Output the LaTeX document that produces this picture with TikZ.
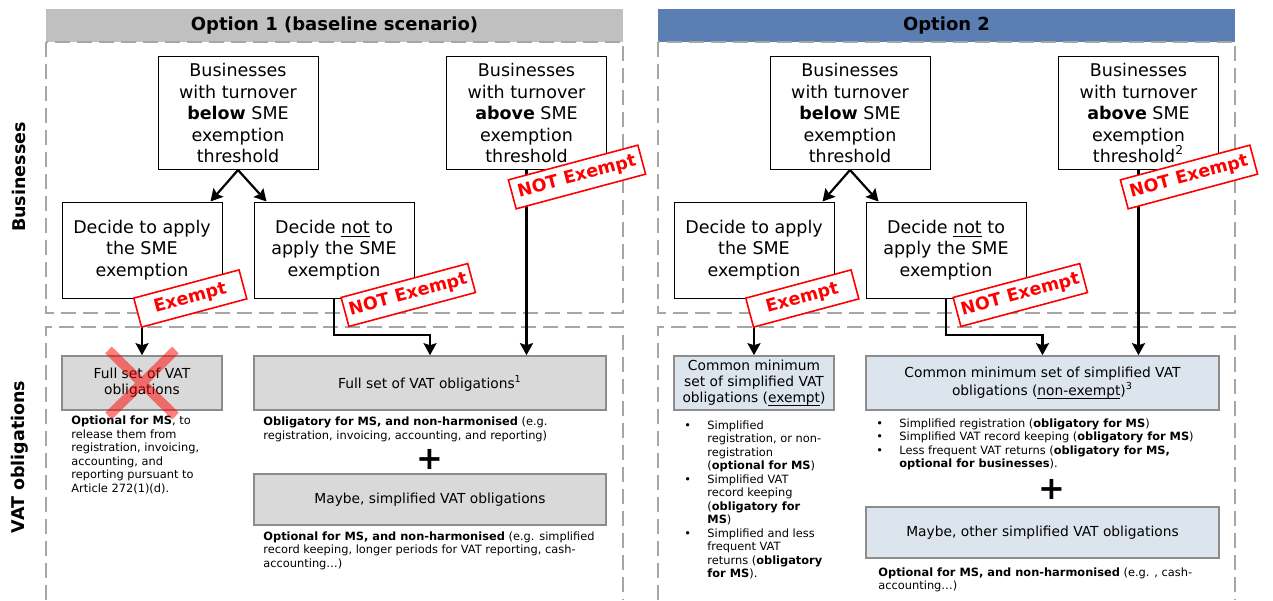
\documentclass[tikz,border=0pt]{standalone}
\usepackage{fontspec}
\setmainfont{DejaVu Sans}
\usepackage{tikz}
\usetikzlibrary{arrows.meta}
\usetikzlibrary{positioning}
\definecolor{hdrgray}{HTML}{C0C0C0}
\definecolor{hdrblue}{HTML}{5B7FB3}
\definecolor{dashgray}{HTML}{A6A6A6}
\definecolor{obgray}{HTML}{D9D9D9}
\definecolor{obblue}{HTML}{DCE4EE}
\definecolor{edgegray}{HTML}{8C8C8C}
\newcommand{\boxfont}{\fontsize{8.75}{10.75}\selectfont}
\newcommand{\obfont}{\fontsize{6.9}{8}\selectfont}
\newcommand{\notefont}{\fontsize{5.7}{6.75}\selectfont}
\newcommand{\bul}{\makebox[11.5pt][l]{\textbullet}}
\newcommand{\ind}{\hspace*{11.5pt}}
\newcommand{\uln}[1]{\underline{\smash{#1}}}

\begin{document}
\begin{tikzpicture}[x=0.5pt, y=-0.5pt,
    hdr/.style={font=\fontsize{9}{11}\selectfont\bfseries, inner sep=0pt, minimum width=288.5pt, minimum height=16.5pt},
    region/.style={dashgray, line width=1pt, dash pattern=on 7.5pt off 3.5pt},
    side/.style={rotate=90, font=\boxfont\bfseries},
    bizbox/.style={draw, line width=0.5pt, fill=white, minimum width=80pt, align=center, font=\boxfont, inner sep=0pt},
    obbox/.style={draw=edgegray, line width=0.8pt, fill=obgray, align=center, font=\obfont, inner sep=0pt, minimum height=27pt},
    note/.style={align=left, font=\notefont, inner sep=0pt, anchor=north west},
    plus/.style={font=\fontsize{16}{16}\selectfont\bfseries, inner sep=0pt},
    stamp/.style={draw=red, line width=0.8pt, fill=white, text=red, font=\boxfont\bfseries, rotate=15, minimum height=15pt, inner sep=1.5pt},
    flow/.style={line width=1.1pt, -{Stealth[length=6pt, width=6.5pt, inset=1pt]}},
    cross/.style={red, opacity=0.5, line width=4.75pt}]
  \useasboundingbox (0,0) rectangle (1273,600);

  \node[side] (lbiz) at (19,177) {Businesses};
  \node[side] (lvat) at (20,457) {VAT obligations};

  % Option 1
  \node[hdr, fill=hdrgray] (h1) at (334.5,25.5) {Option 1 (baseline scenario)};
  \draw[region] (46,42) rectangle (623,313);
  \draw[region] (46,600) -- (46,327) -- (623,327) -- (623,600);

  \node[bizbox, minimum height=56.5pt] (b1) at (238,113) {Businesses\\with turnover\\\textbf{below} SME\\exemption\\threshold};
  \node[bizbox, minimum height=56.5pt] (b2) at (526.5,113) {Businesses\\with turnover\\\textbf{above} SME\\exemption\\threshold};
  \node[bizbox, minimum height=48pt] (d1) at (142,250) {Decide to apply\\the SME\\exemption};
  \node[bizbox, minimum height=48pt] (d2) at (334,250) {Decide \uln{not} to\\apply the SME\\exemption};

  \node[obbox, minimum width=80pt] (f1) at (142,383) {Full set of VAT\\obligations};
  \node[obbox, minimum width=176pt] (f2) at (430,383) {Full set of VAT obligations\textsuperscript{1}};
  \node[plus] (plus1) at (430,459) {+};
  \node[obbox, minimum width=176pt, minimum height=25.5pt] (m1) at (430,499.5) {Maybe, simplified VAT obligations};

  \node[note] (n1) at (71,415.5) {\textbf{Optional for MS}, to\\release them from\\registration, invoicing,\\accounting, and\\reporting pursuant to\\Article 272(1)(d).};
  \node[note] (n2) at (263,416.5) {\textbf{Obligatory for MS, and non-harmonised} (e.g.\\registration, invoicing, accounting, and reporting)};
  \node[note] (n3) at (263,531) {\textbf{Optional for MS, and non-harmonised} (e.g. simplified\\record keeping, longer periods for VAT reporting, cash-\\accounting\ldots)};

  \coordinate (lvl) at (0,335);
  \draw[flow] (b1.south) -- ([xshift=-6pt]d1.north east);
  \draw[flow] (b1.south) -- ([xshift=6.5pt]d2.north west);
  \draw[flow] (d1.south) -- (f1.north);
  \draw[flow] (d2.south) |- (f2.north |- lvl) -- (f2.north);
  \draw[flow] (b2.south) -- (b2.south |- f2.north);

  \draw[cross] (f1.center) +(-33.5,-33) -- +(33.5,33) +(-33.5,33) -- +(33.5,-33);

  \node[stamp, minimum width=54.5pt] (s1) at (190.3,298.5) {Exempt};
  \node[stamp, minimum width=65.5pt] (s2) at (408.3,295) {NOT Exempt};
  \node[stamp, minimum width=67pt] (s3) at (577,177) {NOT Exempt};

  % Option 2
  \begin{scope}[xshift=306pt]
    \node[hdr, fill=hdrblue] (h2) at (334.5,25.5) {Option 2};
    \draw[region] (46,42) rectangle (623,313);
    \draw[region] (46,600) -- (46,327) -- (623,327) -- (623,600);

    \node[bizbox, minimum height=56.5pt] (b3) at (238,113) {Businesses\\with turnover\\\textbf{below} SME\\exemption\\threshold};
    \node[bizbox, minimum height=56.5pt] (b4) at (526.5,113) {Businesses\\with turnover\\\textbf{above} SME\\exemption\\threshold\textsuperscript{2}};
    \node[bizbox, minimum height=48pt] (d3) at (142,250) {Decide to apply\\the SME\\exemption};
    \node[bizbox, minimum height=48pt] (d4) at (334,250) {Decide \uln{not} to\\apply the SME\\exemption};

    \node[obbox, fill=obblue, minimum width=80pt] (c1) at (142,383) {Common minimum\\set of simplified VAT\\obligations (\uln{exempt})};
    \node[obbox, fill=obblue, minimum width=176.5pt] (c2) at (430.5,383) {Common minimum set of simplified VAT\\obligations (\uln{non-exempt})\textsuperscript{3}};
    \node[plus] (plus2) at (440,489) {+};
    \node[obbox, fill=obblue, minimum width=176.5pt, minimum height=25.5pt] (m2) at (430.5,532.5) {Maybe, other simplified VAT obligations};

    \node[note] (n4) at (72,420) {\bul Simplified\\ \ind registration, or non-\\ \ind registration\\ \ind(\textbf{optional for MS})\\ \bul Simplified VAT\\ \ind record keeping\\ \ind(\textbf{obligatory for}\\ \ind\textbf{MS})\\ \bul Simplified and less\\ \ind frequent VAT\\ \ind returns (\textbf{obligatory}\\ \ind\textbf{for MS}).};
    \node[note] (n5) at (264,418) {\bul Simplified registration (\textbf{obligatory for MS})\\ \bul Simplified VAT record keeping (\textbf{obligatory for MS})\\ \bul Less frequent VAT returns (\textbf{obligatory for MS,}\\ \ind\textbf{optional for businesses}).};
    \node[note] (n6) at (266,567) {\textbf{Optional for MS, and non-harmonised} (e.g. , cash-\\accounting\ldots)};

    \draw[flow] (b3.south) -- ([xshift=-6pt]d3.north east);
    \draw[flow] (b3.south) -- ([xshift=6.5pt]d4.north west);
    \draw[flow] (d3.south) -- (c1.north);
    \draw[flow] (d4.south) |- (c2.north |- lvl) -- (c2.north);
    \draw[flow] (b4.south) -- (b4.south |- c2.north);

    \node[stamp, minimum width=54.5pt] (s4) at (190.3,298.5) {Exempt};
    \node[stamp, minimum width=65.5pt] (s5) at (408.3,295) {NOT Exempt};
    \node[stamp, minimum width=67pt] (s6) at (577,177) {NOT Exempt};
  \end{scope}
\end{tikzpicture}
\end{document}
